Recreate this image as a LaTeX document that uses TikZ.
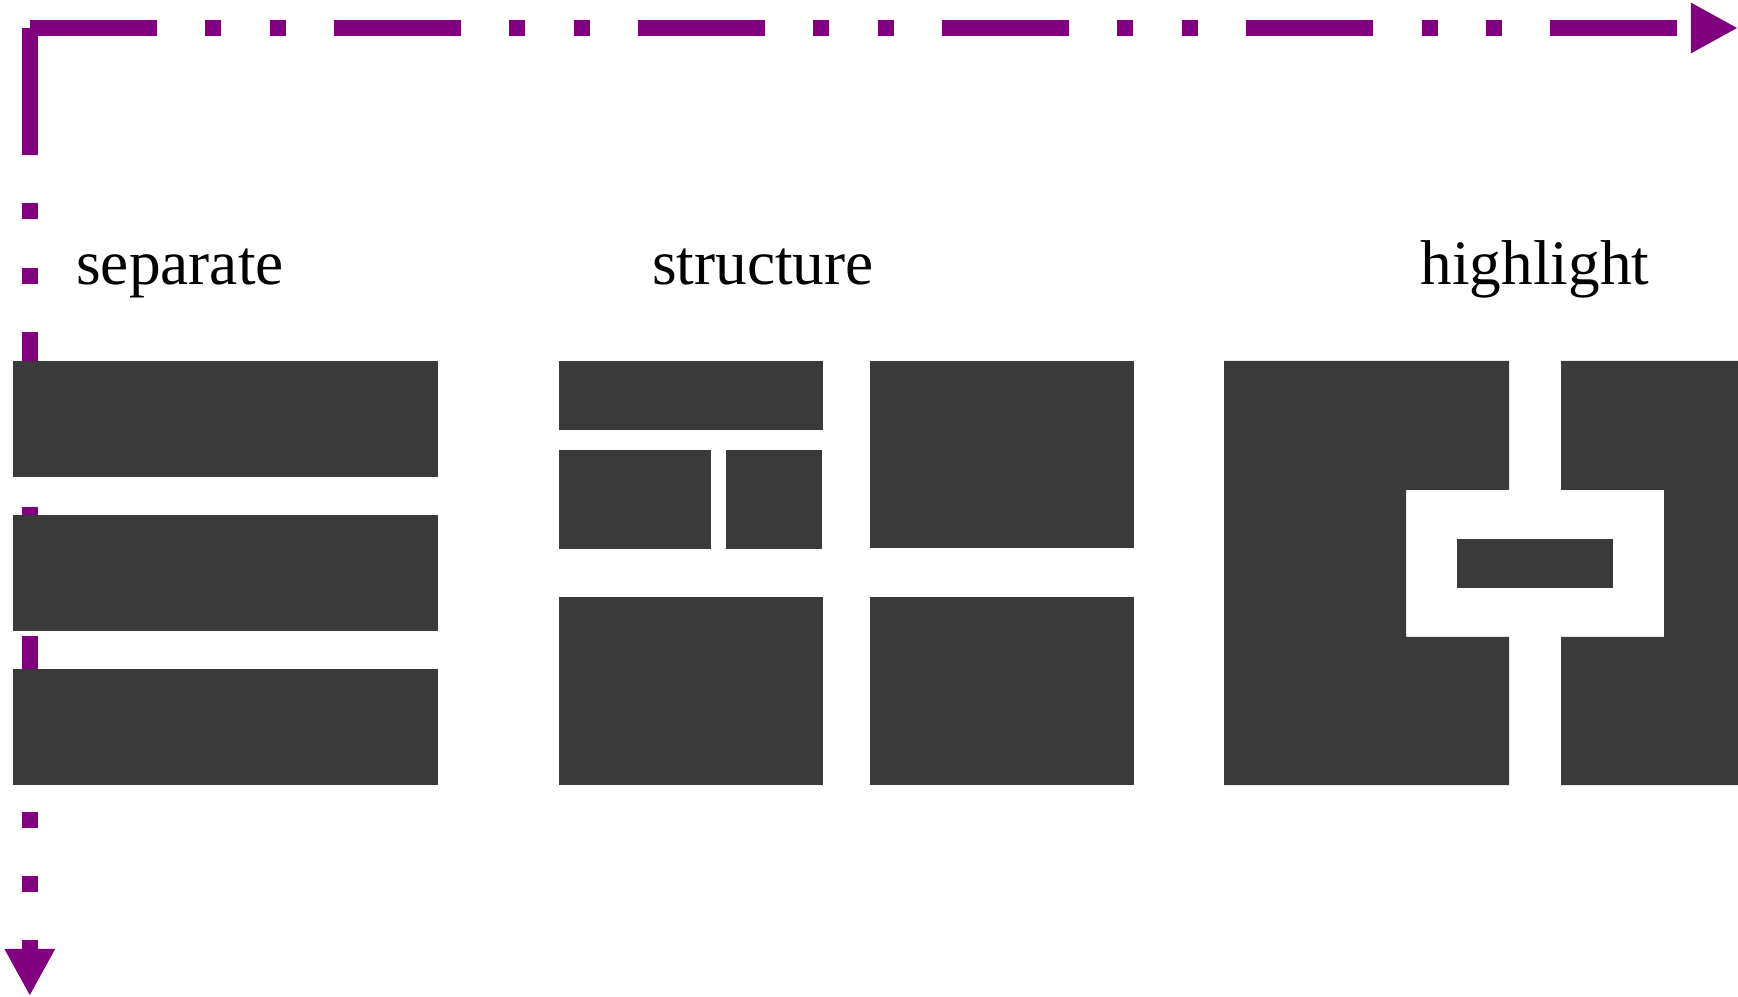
\documentclass[tikz,border=0pt]{standalone}
\usepackage{fontspec}
\setmainfont{Liberation Serif}
\usetikzlibrary{arrows.meta}
\definecolor{axispurple}{HTML}{800080}
\definecolor{blockgray}{HTML}{3A3A3A}
\tikzset{axis/.style={draw=axispurple,line width=1.6mm,line cap=butt,
 dash pattern=on 12.7mm off 4.83mm on 1.6mm off 4.83mm on 1.6mm off 4.83mm,
 -{Triangle[length=4.7mm,width=4.7mm]}},
 block/.style={fill=blockgray},
 caption/.style={anchor=base,inner sep=0pt,font=\fontsize{18pt}{20pt}\selectfont}}
\begin{document}
\begin{tikzpicture}[x=0.01cm,y=-0.01cm]
\useasboundingbox (0,0) rectangle (1738,997);
\coordinate (origin) at (29.8,28);
\coordinate (xend) at (1738,28);
\coordinate (yend) at (29.8,996);
\draw[axis] (origin) -- (xend);
\draw[axis] (origin) -- (yend);
\node[caption] (separate) at (180,285) {separate};
\node[caption] (structure) at (763,285) {structure};
\node[caption] (highlight) at (1535,285) {highlight};
\foreach \top in {361,515,669}
 \fill[block] (13,\top) rectangle ++(425,116);
\fill[block] (559,361) rectangle (823,430);
\fill[block] (559,450) rectangle (711,549);
\fill[block] (726,450) rectangle (822,549);
\fill[block] (559,597) rectangle (823,785);
\fill[block] (870,361) rectangle (1134,548);
\fill[block] (870,597) rectangle (1134,785);
\fill[block] (1224,361) -- (1509,361) -- (1509,490) -- (1406,490) -- (1406,637)
 -- (1509,637) -- (1509,785) -- (1224,785) -- cycle;
\fill[block] (1561,361) -- (1738,361) -- (1738,785) -- (1561,785) -- (1561,637)
 -- (1664,637) -- (1664,490) -- (1561,490) -- cycle;
\fill[block] (1457,539) rectangle (1613,588);
\end{tikzpicture}
\end{document}
